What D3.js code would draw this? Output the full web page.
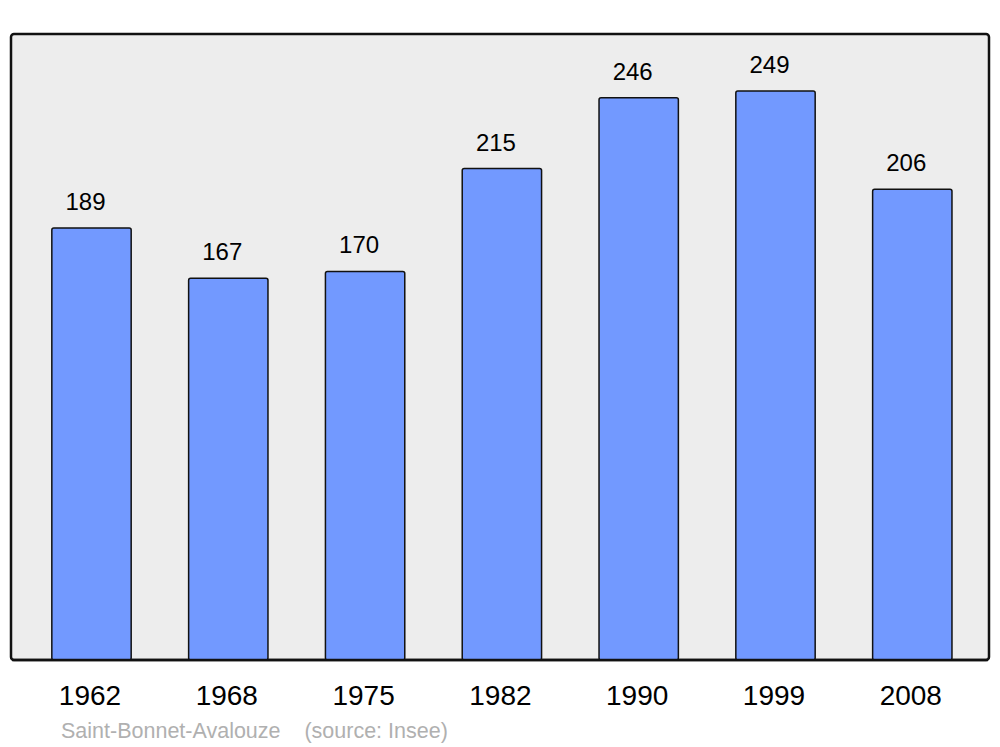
<!DOCTYPE html>
<html>
<head>
<meta charset="utf-8">
<script src="https://cdn.jsdelivr.net/npm/d3@7"></script>
<style>
  body { margin: 0; background: #fff; }
  text { font-family: "Liberation Sans", Arial, sans-serif; }
</style>
</head>
<body>
<div id="chart"></div>
<script>
var years = ["1962", "1968", "1975", "1982", "1990", "1999", "2008"];
var population = [189, 167, 170, 215, 246, 249, 206];
var townName = "Saint-Bonnet-Avalouze";
var sourceText = "(source: Insee)";

var width = 1000, height = 747;

var svg = d3.select("#chart").append("svg")
  .attr("width", width)
  .attr("height", height);

// panel
var panel = { left: 11, top: 34, right: 989, bottom: 660 };

svg.append("rect")
  .attr("x", panel.left)
  .attr("y", panel.top)
  .attr("width", panel.right - panel.left)
  .attr("height", panel.bottom - panel.top)
  .attr("rx", 3).attr("ry", 3)
  .style("fill", "#ededed")
  .style("stroke", "#111")
  .style("stroke-width", 2.5);

var x = d3.scaleBand()
  .domain(years)
  .range([23.1, 980.7])
  .paddingInner(0.42)
  .paddingOuter(0.21);

var y = d3.scaleLinear()
  .domain([0, d3.max(population) * 1.1])
  .range([panel.bottom, panel.top]);

var bars = svg.selectAll(".bar")
  .data(population)
  .enter().append("g")
  .attr("class", "bar");

bars.append("rect")
  .attr("x", function (d, i) { return x(years[i]); })
  .attr("y", function (d) { return y(d); })
  .attr("width", x.bandwidth())
  .attr("height", function (d) { return y(0) - y(d); })
  .attr("rx", 2).attr("ry", 2)
  .style("fill", "#7299ff")
  .style("stroke", "#111")
  .style("stroke-width", 1.5);

bars.append("text")
  .attr("x", function (d, i) { return x(years[i]) + x.bandwidth() / 2 - 6; })
  .attr("y", function (d) { return y(d) - 18; })
  .attr("text-anchor", "middle")
  .style("font-size", "24px")
  .style("fill", "#000")
  .text(function (d) { return d; });

// redraw bottom edge of panel over bar bottoms
svg.append("line")
  .attr("x1", panel.left + 1).attr("x2", panel.right - 1)
  .attr("y1", panel.bottom).attr("y2", panel.bottom)
  .style("stroke", "#111")
  .style("stroke-width", 2.5);

// x axis labels
svg.selectAll(".year")
  .data(years)
  .enter().append("text")
  .attr("class", "year")
  .attr("x", function (d) { return x(d) + x.bandwidth() / 2 - 1.5; })
  .attr("y", 705)
  .attr("text-anchor", "middle")
  .style("font-size", "28px")
  .style("fill", "#000")
  .text(function (d) { return d; });

svg.append("text")
  .attr("x", 61)
  .attr("y", 738)
  .style("font-size", "21.5px")
  .style("fill", "#b0b0b0")
  .attr("xml:space", "preserve")
  .text(townName + "    " + sourceText);
</script>
</body>
</html>
